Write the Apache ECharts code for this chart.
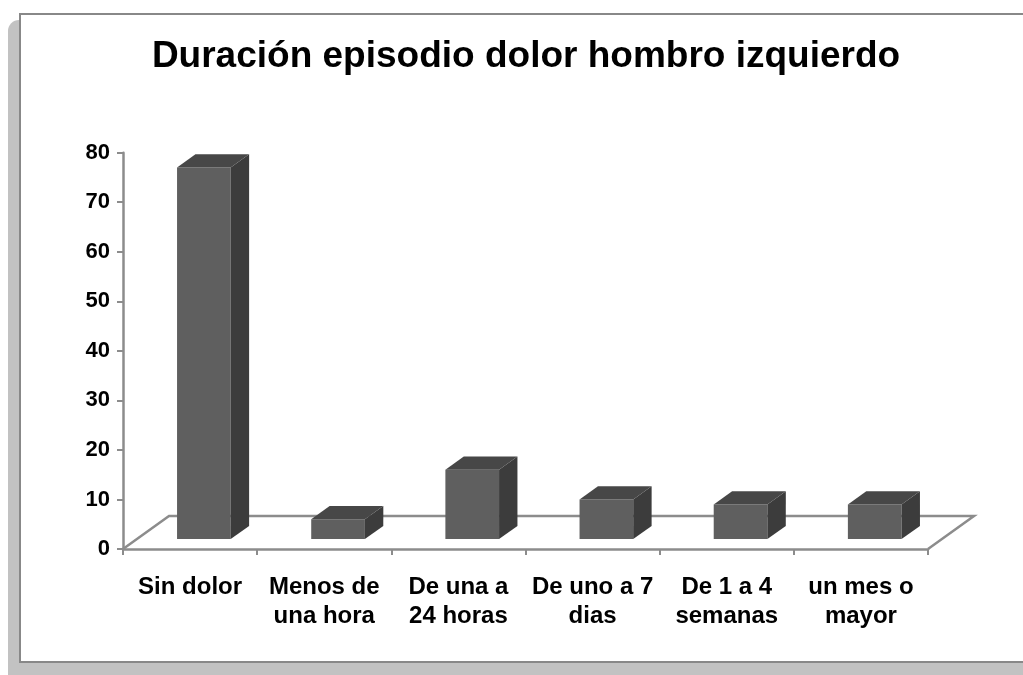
<!DOCTYPE html>
<html>
<head>
<meta charset="utf-8">
<script src="https://cdn.jsdelivr.net/npm/echarts@6/dist/echarts.min.js"></script>
<style>
  html, body { margin: 0; padding: 0; background: #ffffff; }
  #chart { width: 1023px; height: 675px; }
</style>
</head>
<body>
<div id="chart"></div>
<script>
// Episode duration categories and counts
const categories = [
  'Sin dolor',
  'Menos de\nuna hora',
  'De una a\n24 horas',
  'De uno a 7\ndias',
  'De 1 a 4\nsemanas',
  'un mes o\nmayor'
];
const values = [75, 4, 14, 8, 7, 7];
const titleText = 'Duración episodio dolor hombro izquierdo';
const yMin = 0;
const yMax = 80;
const yStep = 10;

// Oblique 3D look: floor depth vector and where the boxes sit inside it
const DEPTH_X = 46;
const DEPTH_Y = 33;
const BOX_FRONT = 0.3;
const BOX_BACK = 0.7;
const BOX_WIDTH = 0.4;
const FACE_FRONT = '#5f5f5f';
const FACE_TOP = '#474747';
const FACE_SIDE = '#3c3c3c';
const AXIS_GRAY = '#8c8c8c';
const FONT = '"Liberation Sans", Arial, sans-serif';

function renderFloor(params, api) {
  const cs = params.coordSys;
  const x0 = cs.x, x1 = cs.x + cs.width, y = cs.y + cs.height;
  return {
    type: 'polyline',
    shape: { points: [[x0, y], [x0 + DEPTH_X, y - DEPTH_Y], [x1 + DEPTH_X, y - DEPTH_Y], [x1, y]] },
    style: { stroke: AXIS_GRAY, lineWidth: 2.5, fill: null }
  };
}

function renderBox(params, api) {
  const i = api.value(0);
  const v = api.value(1);
  const base = api.coord([i, 0]);
  const top = api.coord([i, v]);
  const band = api.size([1, 0])[0];
  const w = band * BOX_WIDTH;
  const ox = DEPTH_X * BOX_FRONT, oy = -DEPTH_Y * BOX_FRONT;
  const dx = DEPTH_X * (BOX_BACK - BOX_FRONT), dy = -DEPTH_Y * (BOX_BACK - BOX_FRONT);
  const x0 = base[0] - w / 2 + ox, x1 = x0 + w;
  const yb = base[1] + oy, yt = top[1] + oy;
  return {
    type: 'group',
    children: [
      { type: 'polygon', shape: { points: [[x0, yb], [x1, yb], [x1, yt], [x0, yt]] },
        style: { fill: FACE_FRONT } },
      { type: 'polygon', shape: { points: [[x1, yb], [x1 + dx, yb + dy], [x1 + dx, yt + dy], [x1, yt]] },
        style: { fill: FACE_SIDE } },
      { type: 'polygon', shape: { points: [[x0, yt], [x1, yt], [x1 + dx, yt + dy], [x0 + dx, yt + dy]] },
        style: { fill: FACE_TOP } }
    ]
  };
}

const chart = echarts.init(document.getElementById('chart'), null, { renderer: 'canvas' });

chart.setOption({
  backgroundColor: '#ffffff',
  animation: false,
  graphic: [
    { type: 'rect', z: -20, silent: true,
      shape: { x: 8, y: 20, width: 1100, height: 700, r: [11, 0, 0, 0] },
      style: { fill: '#c2c2c2' } },
    { type: 'rect', z: -10, silent: true,
      shape: { x: 20, y: 14, width: 1100, height: 648 },
      style: { fill: '#ffffff', stroke: '#888888', lineWidth: 2 } },
    { type: 'text', z: 10, x: 526, y: 57,
      style: { text: titleText, fill: '#000000', font: 'bold 37px ' + FONT,
               textAlign: 'center', textVerticalAlign: 'middle' } }
  ],
  grid: {
    left: 123, right: 95, top: 152.7, bottom: 126,
    containLabel: false, outerBoundsMode: 'none'
  },
  xAxis: {
    type: 'category',
    data: categories,
    boundaryGap: true,
    axisLine: { show: true, lineStyle: { color: AXIS_GRAY, width: 2.5 } },
    axisTick: { show: true, interval: 0, alignWithLabel: false, length: 6,
                lineStyle: { color: AXIS_GRAY, width: 2 } },
    axisLabel: { interval: 0, color: '#000000', fontFamily: FONT, fontWeight: 'bold',
                 fontSize: 24, lineHeight: 29, margin: 24 },
    splitLine: { show: false }
  },
  yAxis: {
    type: 'value',
    min: yMin, max: yMax, interval: yStep,
    axisLine: { show: true, lineStyle: { color: AXIS_GRAY, width: 2.5 } },
    axisTick: { show: true, length: 6, lineStyle: { color: AXIS_GRAY, width: 2 } },
    axisLabel: { color: '#000000', fontFamily: FONT, fontWeight: 'bold', fontSize: 22, margin: 13 },
    splitLine: { show: false }
  },
  series: [
    { type: 'custom', name: 'floor', z: 1, silent: true,
      renderItem: renderFloor, data: [[0, 0]], clip: false },
    { type: 'custom', name: 'Duración', z: 3,
      renderItem: renderBox,
      data: values.map((v, i) => [i, v]),
      encode: { x: 0, y: 1 }, clip: false }
  ]
});
</script>
</body>
</html>
